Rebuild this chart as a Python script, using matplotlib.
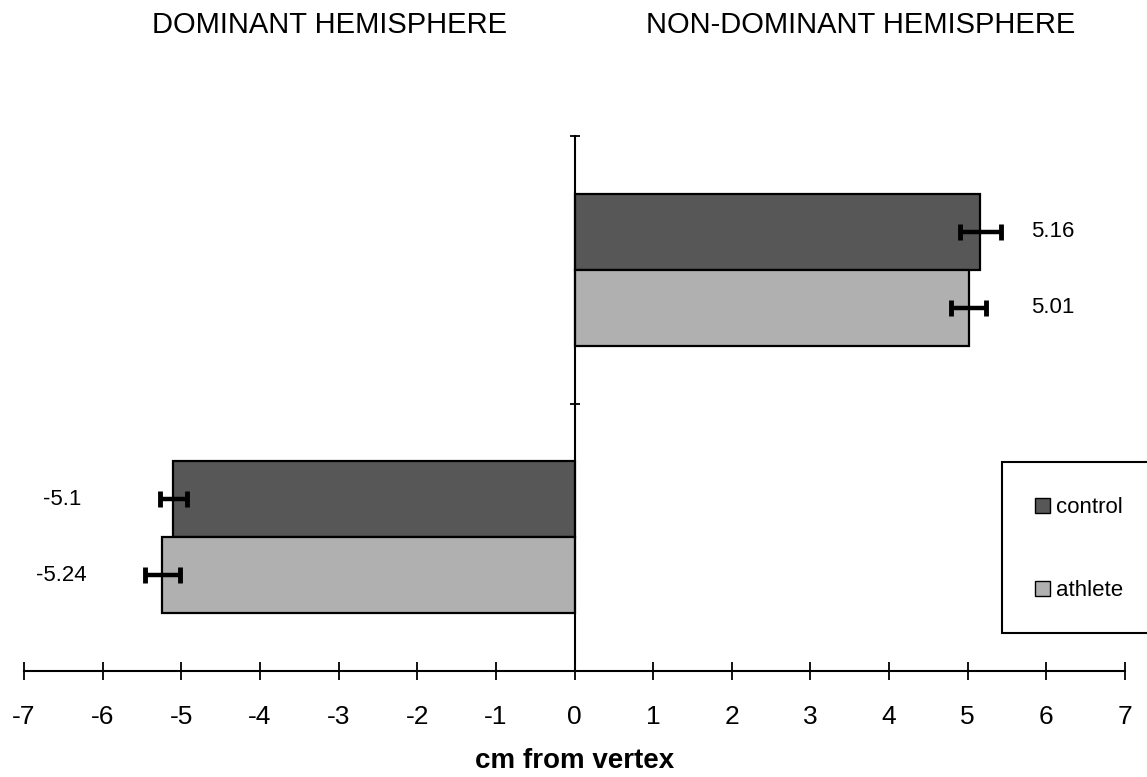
import matplotlib
matplotlib.use("Agg")
import matplotlib.pyplot as plt
from matplotlib.patches import Rectangle, Patch
import numpy as np

# ---- data ----
categories = ["DOMINANT HEMISPHERE", "NON-DOMINANT HEMISPHERE"]
series_names = ["control", "athlete"]
control_vals = [-5.10, 5.16]
athlete_vals = [-5.24, 5.01]
control_err = [0.17, 0.26]
athlete_err = [0.22, 0.22]
control_labels = ["-5.1", "5.16"]
athlete_labels = ["-5.24", "5.01"]
xticks = [-7, -6, -5, -4, -3, -2, -1, 0, 1, 2, 3, 4, 5, 6, 7]

plt.rcParams['font.family'] = ['Liberation Sans', 'DejaVu Sans']

W, H = 1147, 777
fig = plt.figure(figsize=(W / 100, H / 100), dpi=100)
ax = fig.add_axes([24 / W, 1 - 671 / H, (1125 - 24) / W, (671 - 136) / H])

ypos = np.arange(len(categories))
bh = 0.284
col_control = "#575757"
col_athlete = "#b0b0b0"

ax.barh(ypos + bh / 2, control_vals, height=bh, color=col_control,
        edgecolor="black", linewidth=1.6, zorder=2)
ax.barh(ypos - bh / 2, athlete_vals, height=bh, color=col_athlete,
        edgecolor="black", linewidth=1.6, zorder=2)

ekw = dict(fmt="none", ecolor="black", elinewidth=3.2, capsize=5.5, capthick=3.5, zorder=3)
ax.errorbar(control_vals, ypos + bh / 2, xerr=control_err, **ekw)
ax.errorbar(athlete_vals, ypos - bh / 2, xerr=athlete_err, **ekw)

# data labels
label_x_pos, label_x_neg = 6.08, -6.52
for vals, labs, off in [(control_vals, control_labels, bh / 2),
                        (athlete_vals, athlete_labels, -bh / 2)]:
    for i, (v, lab) in enumerate(zip(vals, labs)):
        lx = label_x_pos if v > 0 else label_x_neg
        ax.text(lx, ypos[i] + off, lab, ha="center", va="center", fontsize=16)

ax.set_xlim(-7, 7)
ax.set_ylim(-0.5, 1.5)
ax.set_xticks(xticks)
ax.set_xticklabels([str(t) for t in xticks])
ax.set_yticks([-0.5, 0.5, 1.5])
ax.set_yticklabels([])

for s in ["top", "right"]:
    ax.spines[s].set_visible(False)
ax.spines["left"].set_position(("data", 0))
ax.spines["left"].set_linewidth(1.5)
ax.spines["bottom"].set_linewidth(1.5)
ax.tick_params(axis="x", direction="inout", length=13, width=1.3, labelsize=19, pad=18)
ax.tick_params(axis="y", direction="inout", length=7, width=1.3)
ax.set_xlabel("cm from vertex", fontsize=20, fontweight="bold", labelpad=14)

# category titles
fig.text(330 / W, 1 - 25 / H, categories[0], ha="center", va="center", fontsize=21)
fig.text(861 / W, 1 - 25 / H, categories[1], ha="center", va="center", fontsize=21)

# legend box (runs off the right edge)
fig.patches.append(Rectangle((1002 / W, 1 - 633 / H), 400 / W, (633 - 462) / H,
                             transform=fig.transFigure, facecolor="white",
                             edgecolor="black", linewidth=1.5, zorder=5))
handles = [Patch(facecolor=col_control, edgecolor="black", linewidth=1),
           Patch(facecolor=col_athlete, edgecolor="black", linewidth=1)]
leg = fig.legend(handles, series_names, loc="center left",
                 bbox_to_anchor=(1024 / W, 1 - 549 / H), frameon=False,
                 fontsize=16, handlelength=0.65, handleheight=0.65,
                 handletextpad=0.3, labelspacing=2.8, borderpad=0)
leg.set_zorder(6)

fig.savefig("out.png", dpi=100)
